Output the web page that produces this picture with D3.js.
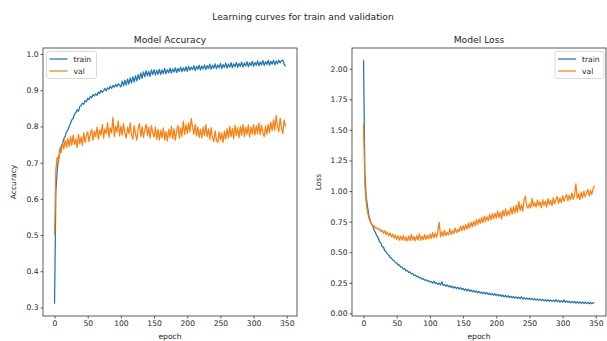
<!DOCTYPE html>
<html>
<head>
<meta charset="utf-8">
<script src="https://cdn.jsdelivr.net/npm/d3@7"></script>
<style>
  body { margin: 0; background: #fff; }
  text { font-family: "DejaVu Sans", sans-serif; fill: #262626; }
</style>
</head>
<body>
<div id="chart"></div>
<script>
// Figure size
var svgWidth = 607;
var svgHeight = 341;

// epochs sampled every 2 epochs (0 .. 348)
var epochs = d3.range(0, 350, 2);

// Accuracy values
var trainAcc = [
  0.31, 0.62, 0.68, 0.712, 0.728, 0.745, 0.752, 0.766, 0.772, 0.785, 0.79, 0.8, 0.808, 0.818, 0.822, 0.834, 0.838, 0.846, 0.842, 0.855, 0.858, 0.864, 0.861, 0.872, 0.868,
  0.878, 0.874, 0.883, 0.879, 0.888, 0.884, 0.89, 0.886, 0.895, 0.891, 0.9, 0.894, 0.899, 0.905, 0.898, 0.907, 0.903, 0.911, 0.905, 0.913, 0.909, 0.916, 0.91, 0.918, 0.914,
  0.909, 0.925, 0.912, 0.928, 0.914, 0.931, 0.917, 0.934, 0.92, 0.937, 0.923, 0.94, 0.926, 0.943, 0.93, 0.948, 0.933, 0.951, 0.937, 0.954, 0.94, 0.952, 0.938, 0.956, 0.943,
  0.957, 0.942, 0.955, 0.944, 0.958, 0.943, 0.956, 0.946, 0.96, 0.945, 0.957, 0.948, 0.961, 0.947, 0.959, 0.95, 0.962, 0.949, 0.96, 0.952, 0.964, 0.951, 0.962, 0.953, 0.965,
  0.952, 0.966, 0.955, 0.964, 0.957, 0.968, 0.954, 0.966, 0.958, 0.969, 0.956, 0.967, 0.959, 0.97, 0.957, 0.968, 0.96, 0.972, 0.958, 0.969, 0.961, 0.973, 0.959, 0.97, 0.962,
  0.974, 0.96, 0.971, 0.963, 0.975, 0.961, 0.972, 0.964, 0.976, 0.962, 0.973, 0.965, 0.977, 0.963, 0.974, 0.966, 0.978, 0.964, 0.975, 0.967, 0.979, 0.965, 0.976, 0.968, 0.98,
  0.966, 0.977, 0.969, 0.981, 0.967, 0.978, 0.97, 0.982, 0.968, 0.979, 0.971, 0.983, 0.969, 0.98, 0.972, 0.983, 0.97, 0.981, 0.973, 0.983, 0.975, 0.982, 0.983, 0.972, 0.966
];
var valAcc = [
  0.50, 0.68, 0.715, 0.70, 0.74, 0.728, 0.755, 0.738, 0.762, 0.742, 0.768, 0.745, 0.772, 0.748, 0.776, 0.75, 0.765, 0.742, 0.778, 0.752, 0.771, 0.748, 0.782, 0.756, 0.774,
  0.785, 0.758, 0.779, 0.792, 0.762, 0.786, 0.771, 0.798, 0.765, 0.79, 0.776, 0.805, 0.768, 0.793, 0.78, 0.81, 0.77, 0.796, 0.782, 0.825, 0.772, 0.8, 0.784, 0.815, 0.774,
  0.801, 0.776, 0.808, 0.782, 0.768, 0.798, 0.78, 0.81, 0.776, 0.765, 0.802, 0.779, 0.762, 0.795, 0.808, 0.772, 0.799, 0.77, 0.79, 0.806, 0.775, 0.798, 0.768, 0.802, 0.782,
  0.771, 0.798, 0.765, 0.792, 0.762, 0.789, 0.768, 0.796, 0.763, 0.785, 0.76, 0.792, 0.77, 0.8, 0.766, 0.794, 0.762, 0.788, 0.803, 0.768, 0.797, 0.772, 0.815, 0.778, 0.805,
  0.781, 0.81, 0.785, 0.822, 0.798, 0.778, 0.806, 0.774, 0.799, 0.77, 0.792, 0.768, 0.798, 0.775, 0.805, 0.772, 0.793, 0.765, 0.797, 0.768, 0.758, 0.788, 0.762, 0.756, 0.785,
  0.762, 0.782, 0.756, 0.787, 0.765, 0.793, 0.768, 0.8, 0.772, 0.795, 0.766, 0.803, 0.775, 0.797, 0.769, 0.8, 0.776, 0.806, 0.772, 0.798, 0.778, 0.804, 0.771, 0.799, 0.779,
  0.805, 0.776, 0.802, 0.78, 0.809, 0.777, 0.803, 0.782, 0.772, 0.801, 0.778, 0.806, 0.783, 0.812, 0.788, 0.818, 0.79, 0.83, 0.8, 0.786, 0.823, 0.795, 0.78, 0.818, 0.799
];

// Loss values
var trainLoss = [
  2.07, 1.15, 0.95, 0.87, 0.80, 0.76, 0.73, 0.712, 0.68, 0.66, 0.635, 0.62, 0.585, 0.578, 0.545, 0.542, 0.51, 0.506, 0.485, 0.476, 0.458, 0.452, 0.436, 0.432, 0.414,
  0.413, 0.394, 0.396, 0.377, 0.378, 0.362, 0.366, 0.347, 0.351, 0.334, 0.339, 0.322, 0.326, 0.311, 0.313, 0.301, 0.303, 0.29, 0.292, 0.28, 0.284, 0.271, 0.275, 0.264, 0.268,
  0.256, 0.262, 0.248, 0.263, 0.244, 0.252, 0.236, 0.247, 0.232, 0.258, 0.228, 0.236, 0.222, 0.232, 0.218, 0.226, 0.212, 0.222, 0.207, 0.217, 0.203, 0.214, 0.199, 0.21, 0.196,
  0.204, 0.188, 0.2, 0.184, 0.197, 0.18, 0.192, 0.176, 0.188, 0.172, 0.184, 0.168, 0.18, 0.165, 0.176, 0.16, 0.173, 0.158, 0.17, 0.154, 0.166, 0.151, 0.163, 0.148, 0.16,
  0.145, 0.157, 0.142, 0.153, 0.138, 0.15, 0.135, 0.147, 0.132, 0.144, 0.13, 0.141, 0.127, 0.138, 0.125, 0.135, 0.122, 0.133, 0.12, 0.136, 0.118, 0.128, 0.116, 0.126, 0.114,
  0.124, 0.112, 0.122, 0.11, 0.12, 0.108, 0.118, 0.106, 0.116, 0.104, 0.114, 0.103, 0.112, 0.101, 0.111, 0.099, 0.109, 0.098, 0.108, 0.096, 0.112, 0.095, 0.105, 0.093, 0.104,
  0.092, 0.11, 0.09, 0.102, 0.089, 0.1, 0.087, 0.098, 0.086, 0.097, 0.084, 0.095, 0.083, 0.094, 0.082, 0.093, 0.081, 0.092, 0.08, 0.09, 0.079, 0.089, 0.078, 0.086, 0.088
];
var valLoss = [
  1.55, 1.05, 0.90, 0.83, 0.78, 0.75, 0.735, 0.712, 0.718, 0.695, 0.70, 0.685, 0.69, 0.668, 0.682, 0.655, 0.675, 0.645, 0.665, 0.632, 0.658, 0.625, 0.648, 0.615, 0.64,
  0.605, 0.635, 0.598, 0.63, 0.6, 0.638, 0.596, 0.625, 0.592, 0.632, 0.595, 0.645, 0.598, 0.628, 0.594, 0.635, 0.6, 0.652, 0.597, 0.63, 0.602, 0.645, 0.604, 0.636, 0.61,
  0.648, 0.612, 0.66, 0.618, 0.655, 0.622, 0.672, 0.745, 0.625, 0.668, 0.63, 0.678, 0.636, 0.662, 0.642, 0.69, 0.645, 0.675, 0.652, 0.698, 0.66, 0.685, 0.668, 0.712, 0.675,
  0.718, 0.68, 0.725, 0.69, 0.738, 0.698, 0.745, 0.708, 0.752, 0.718, 0.765, 0.725, 0.772, 0.735, 0.785, 0.742, 0.795, 0.75, 0.79, 0.758, 0.808, 0.765, 0.815, 0.775, 0.82,
  0.778, 0.835, 0.785, 0.825, 0.772, 0.842, 0.795, 0.855, 0.8, 0.838, 0.805, 0.865, 0.812, 0.872, 0.82, 0.885, 0.826, 0.915, 0.84, 0.888, 0.835, 0.93, 0.958, 0.875, 0.86,
  0.895, 0.862, 0.94, 0.875, 0.905, 0.868, 0.925, 0.88, 0.912, 0.862, 0.93, 0.882, 0.918, 0.87, 0.938, 0.89, 0.925, 0.878, 0.945, 0.895, 0.93, 0.955, 0.9, 0.942, 0.905,
  0.962, 0.915, 0.95, 0.972, 0.92, 0.965, 0.93, 0.985, 0.935, 0.97, 1.058, 0.94, 0.978, 0.93, 0.992, 0.945, 1.0, 0.952, 0.985, 1.012, 0.96, 1.005, 0.972, 1.02, 1.045
];

// Tick labels
var xTicks = [0, 50, 100, 150, 200, 250, 300, 350];
var accTicks = [0.3, 0.4, 0.5, 0.6, 0.7, 0.8, 0.9, 1.0];
var lossTicks = [0, 0.25, 0.5, 0.75, 1.0, 1.25, 1.5, 1.75, 2.0];
var seriesNames = ["train", "val"];
var colors = ["#1f77b4", "#ff7f0e"];

// Panel geometry
var panelTop = 48;
var panelHeight = 268;
var panelWidth = 254;

var svg = d3.select("#chart")
  .append("svg")
  .attr("width", svgWidth)
  .attr("height", svgHeight);

// Figure title
svg.append("text")
  .attr("x", 303)
  .attr("y", 20)
  .attr("text-anchor", "middle")
  .style("font-size", "9.2px")
  .text("Learning curves for train and validation");

// pad a domain by 5% like matplotlib autoscale
function padded(arrs) {
  var lo = d3.min(arrs, a => d3.min(a));
  var hi = d3.max(arrs, a => d3.max(a));
  var m = (hi - lo) * 0.05;
  return [lo - m, hi + m];
}

function drawPanel(opts) {
  var g = svg.append("g")
    .attr("transform", `translate(${opts.left}, ${panelTop})`);

  var xScale = d3.scaleLinear()
    .domain([-17.4, 365.4])
    .range([0, panelWidth]);
  var yScale = d3.scaleLinear()
    .domain(padded(opts.series))
    .range([panelHeight, 0]);

  var xAxis = d3.axisBottom(xScale).tickValues(xTicks).tickSize(2.5).tickPadding(2);
  var yAxis = d3.axisLeft(yScale).tickValues(opts.ticks).tickSize(2.5).tickPadding(2)
    .tickFormat(d3.format(opts.fmt));

  var gx = g.append("g")
    .attr("transform", `translate(0, ${panelHeight})`)
    .call(xAxis);
  var gy = g.append("g").call(yAxis);
  [gx, gy].forEach(function(a) {
    a.select(".domain").remove();
    a.selectAll("line").attr("stroke", "#333").attr("stroke-width", 0.8);
    a.selectAll("text").style("font-size", "7.6px").attr("fill", "#262626");
  });

  // clip the lines to the axes box
  var clipId = "clip" + opts.left;
  g.append("clipPath").attr("id", clipId)
    .append("rect").attr("width", panelWidth).attr("height", panelHeight);

  var line = d3.line()
    .x((d, i) => xScale(epochs[i]))
    .y(d => yScale(d));

  opts.series.forEach(function(s, k) {
    g.append("path")
      .datum(s)
      .attr("clip-path", `url(#${clipId})`)
      .attr("fill", "none")
      .attr("stroke", colors[k])
      .attr("stroke-width", 1.25)
      .attr("stroke-linejoin", "round")
      .attr("d", line);
  });

  // axes frame
  g.append("rect")
    .attr("width", panelWidth)
    .attr("height", panelHeight)
    .attr("fill", "none")
    .attr("stroke", "#333")
    .attr("stroke-width", 0.8);

  // subplot title
  g.append("text")
    .attr("x", panelWidth / 2)
    .attr("y", -5.5)
    .attr("text-anchor", "middle")
    .style("font-size", "9.2px")
    .text(opts.title);

  // axis labels
  g.append("text")
    .attr("x", panelWidth / 2)
    .attr("y", panelHeight + 23)
    .attr("text-anchor", "middle")
    .style("font-size", "7.6px")
    .text("epoch");
  g.append("text")
    .attr("transform", "rotate(-90)")
    .attr("x", -panelHeight / 2)
    .attr("y", opts.ylabelX)
    .attr("text-anchor", "middle")
    .style("font-size", "7.6px")
    .text(opts.ylabel);

  // legend
  var lg = g.append("g").attr("transform", `translate(${opts.legendX}, 3.5)`);
  lg.append("rect")
    .attr("width", opts.legendW)
    .attr("height", 27)
    .attr("rx", 2)
    .attr("fill", "#fff")
    .attr("fill-opacity", 0.8)
    .attr("stroke", "#d0d0d0")
    .attr("stroke-width", 0.8);
  seriesNames.forEach(function(name, k) {
    lg.append("line")
      .attr("x1", 3).attr("x2", 21)
      .attr("y1", 7.5 + k * 12).attr("y2", 7.5 + k * 12)
      .attr("stroke", colors[k])
      .attr("stroke-width", 1.25);
    lg.append("text")
      .attr("x", 27)
      .attr("y", 10.2 + k * 12)
      .style("font-size", "7.6px")
      .text(name);
  });
}

drawPanel({
  left: 43,
  title: "Model Accuracy",
  ylabel: "Accuracy",
  ylabelX: -27,
  series: [trainAcc, valAcc],
  ticks: accTicks,
  fmt: ".1f",
  legendX: 3.5,
  legendW: 50
});

drawPanel({
  left: 352,
  title: "Model Loss",
  ylabel: "Loss",
  ylabelX: -31,
  series: [trainLoss, valLoss],
  ticks: lossTicks,
  fmt: ".2f",
  legendX: 203,
  legendW: 49
});
</script>
</body>
</html>
